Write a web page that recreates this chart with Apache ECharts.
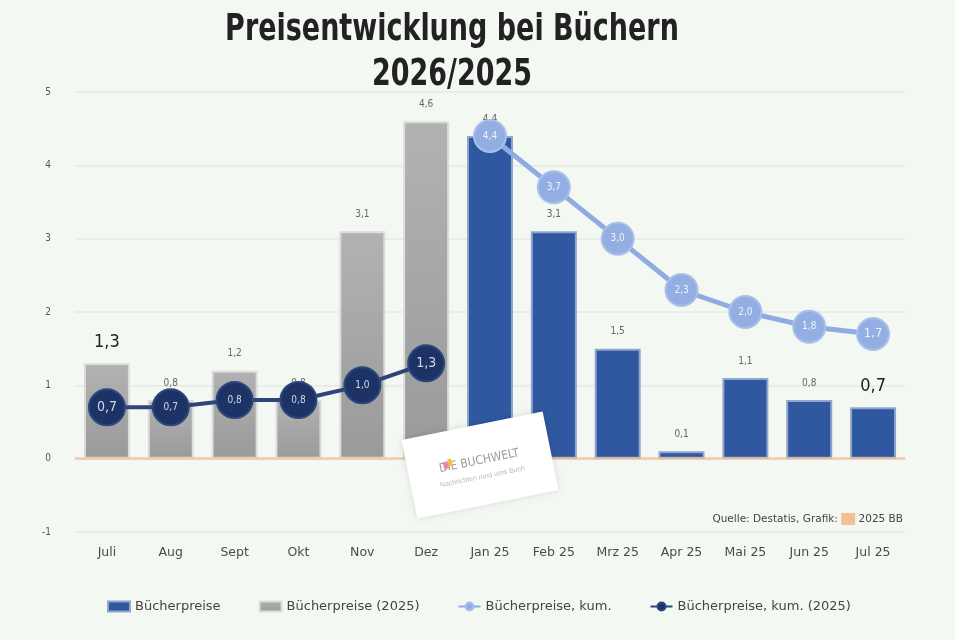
<!DOCTYPE html>
<html>
<head>
    <title>Preisentwicklung bei Büchern</title>
    <meta charset="utf-8">
    <script src="https://cdn.jsdelivr.net/npm/echarts@6/dist/echarts.min.js"></script>
    <style>
        html, body { margin: 0; padding: 0; background: #f4f8f3; }
    </style>
</head>
<body>
    <div id="main" style="width: 955px;height:640px;"></div>

    <script type="text/javascript">
        // categories and values
        var months = ['Juli', 'Aug', 'Sept', 'Okt', 'Nov', 'Dez', 'Jan 25', 'Feb 25', 'Mrz 25', 'Apr 25', 'Mai 25', 'Jun 25', 'Jul 25'];
        var prices = [null, null, null, null, null, null, 4.4, 3.1, 1.5, 0.1, 1.1, 0.8, 0.7];
        var prices2025 = [1.3, 0.8, 1.2, 0.8, 3.1, 4.6, null, null, null, null, null, null, null];
        var pricesCum = [null, null, null, null, null, null, 4.4, 3.7, 3.0, 2.3, 2.0, 1.8, 1.7];
        var pricesCum2025 = [0.7, 0.7, 0.8, 0.8, 1.0, 1.3, null, null, null, null, null, null, null];
        var yTicks = [-1, 0, 1, 2, 3, 4, 5];

        var myChart = echarts.init(document.getElementById('main'));

        // decimal comma
        function comma(p) {
            return p.value == null ? '' : p.value.toFixed(1).replace('.', ',');
        }

        // bigger labels on chosen points, like in the original
        function emphasize(arr, idx, labelStyle) {
            return arr.map(function (v, i) {
                if (v != null && idx.indexOf(i) >= 0) {
                    return { value: v, label: labelStyle };
                }
                return v;
            });
        }
        var lastIdx = months.length - 1;

        var option = {
            backgroundColor: '#f4f8f3',
            textStyle: { fontFamily: 'DejaVu Sans Condensed' },
            legend: {
                bottom: 22,
                left: 102,
                itemGap: 38,
                itemWidth: 22,
                itemHeight: 10,
                textStyle: { fontSize: 13, color: '#444', fontFamily: 'DejaVu Sans' },
                data: [
                    { name: 'Bücherpreise', icon: 'rect' },
                    { name: 'Bücherpreise (2025)', icon: 'rect' },
                    'Bücherpreise, kum.',
                    'Bücherpreise, kum. (2025)'
                ]
            },
            grid: {
                left: 75,
                right: 50,
                top: 92,
                bottom: 108
            },
            xAxis: {
                type: 'category',
                data: months,
                axisLine: { show: false },
                axisTick: { show: false },
                axisLabel: { color: '#4a4a4a', fontSize: 12.5, fontFamily: 'DejaVu Sans', margin: 14 }
            },
            yAxis: {
                type: 'value',
                min: yTicks[0],
                max: yTicks[yTicks.length - 1],
                interval: 1,
                axisLabel: { color: '#555', fontSize: 10, margin: 24 },
                splitLine: { lineStyle: { color: '#e9ece8', width: 2 } }
            },
            series: [{
                name: 'Bücherpreise',
                type: 'bar',
                barWidth: 46,
                barGap: '-100%',
                data: emphasize(prices, [lastIdx], { fontSize: 18, color: '#222' }),
                itemStyle: {
                    color: '#2f58a0',
                    borderColor: '#8ea5cc',
                    borderWidth: 2
                },
                label: {
                    show: true,
                    position: 'top',
                    distance: 12,
                    fontSize: 10,
                    color: '#666',
                    formatter: comma
                },
                z: 2
            }, {
                name: 'Bücherpreise (2025)',
                type: 'bar',
                barWidth: 46,
                data: emphasize(prices2025, [0], { fontSize: 18, color: '#222' }),
                itemStyle: {
                    color: new echarts.graphic.LinearGradient(0, 0, 0, 1, [
                        { offset: 0, color: '#b2b2b2' },
                        { offset: 1, color: '#9a9a9a' }
                    ]),
                    borderColor: '#dcdcdc',
                    borderWidth: 2
                },
                label: {
                    show: true,
                    position: 'top',
                    distance: 12,
                    fontSize: 10,
                    color: '#666',
                    formatter: comma
                },
                markLine: {
                    silent: true,
                    symbol: 'none',
                    label: { show: false },
                    lineStyle: { color: 'rgba(243,190,150,0.65)', width: 3, type: 'solid' },
                    data: [{ yAxis: 0 }]
                },
                z: 3
            }, {
                name: 'Bücherpreise, kum.',
                type: 'line',
                data: emphasize(pricesCum, [lastIdx], { fontSize: 13 }),
                symbol: 'circle',
                symbolSize: 32,
                color: '#8fabe0',
                lineStyle: { color: '#8fabe0', width: 5 },
                itemStyle: { color: '#93aee2', borderColor: '#a9c0ea', borderWidth: 2 },
                label: {
                    show: true,
                    position: 'inside',
                    fontSize: 10,
                    color: '#eef3fb',
                    formatter: comma
                },
                z: 5
            }, {
                name: 'Bücherpreise, kum. (2025)',
                type: 'line',
                data: emphasize(pricesCum2025, [0, 5], { fontSize: 14 }),
                symbol: 'circle',
                symbolSize: 36,
                color: '#1d3366',
                lineStyle: { color: '#2d4677', width: 4 },
                itemStyle: { color: '#1d3366', borderColor: '#2c477c', borderWidth: 2 },
                label: {
                    show: true,
                    position: 'inside',
                    fontSize: 10,
                    color: '#cfd8ea',
                    formatter: comma
                },
                z: 5
            }],
            graphic: [{
                // title, a tall condensed face like the original
                type: 'text',
                x: 452,
                y: 30,
                scaleY: 1.25,
                style: {
                    text: 'Preisentwicklung bei Büchern',
                    fontFamily: 'DejaVu Sans Condensed',
                    fontWeight: 'bold',
                    fontSize: 30,
                    fill: '#222',
                    align: 'center',
                    verticalAlign: 'middle'
                }
            }, {
                type: 'text',
                x: 452,
                y: 75,
                scaleY: 1.25,
                style: {
                    text: '2026/2025',
                    fontFamily: 'DejaVu Sans Condensed',
                    fontWeight: 'bold',
                    fontSize: 30,
                    fill: '#222',
                    align: 'center',
                    verticalAlign: 'middle'
                }
            }, {
                // source note
                type: 'text',
                right: 52,
                top: 513,
                style: {
                    text: '{a|Quelle: Destatis, Grafik: }{sq|}{a| 2025 BB}',
                    rich: {
                        a: { fontSize: 10.5, fontFamily: 'DejaVu Sans', fill: '#444' },
                        sq: { width: 14, height: 12, backgroundColor: '#f5bf95' }
                    }
                }
            }, {
                // logo card
                type: 'group',
                x: 480,
                y: 465,
                rotation: 0.2,
                z: 20,
                children: [{
                    type: 'rect',
                    z: 20,
                    shape: { x: -72, y: -40, width: 144, height: 80 },
                    style: { fill: '#ffffff', shadowBlur: 6, shadowColor: 'rgba(0,0,0,0.12)' }
                }, {
                    type: 'text',
                    z: 21,
                    x: 0,
                    y: -4,
                    style: {
                        text: 'DIE BUCHWELT',
                        fontSize: 12,
                        fontFamily: 'DejaVu Sans Condensed',
                        fill: '#999',
                        align: 'center',
                        verticalAlign: 'middle'
                    }
                }, {
                    type: 'rect',
                    z: 21,
                    shape: { x: -36, y: -10, width: 5, height: 7 },
                    style: { fill: '#e88a9a' }
                }, {
                    type: 'rect',
                    z: 21,
                    shape: { x: -31, y: -12, width: 4, height: 7 },
                    style: { fill: '#f5c232' }
                }, {
                    type: 'text',
                    z: 21,
                    x: 0,
                    y: 12,
                    style: {
                        text: 'Nachrichten rund ums Buch',
                        fontSize: 7,
                        fill: '#bbb',
                        align: 'center',
                        verticalAlign: 'middle'
                    }
                }]
            }]
        };

        myChart.setOption(option);
    </script>
</body>
</html>
